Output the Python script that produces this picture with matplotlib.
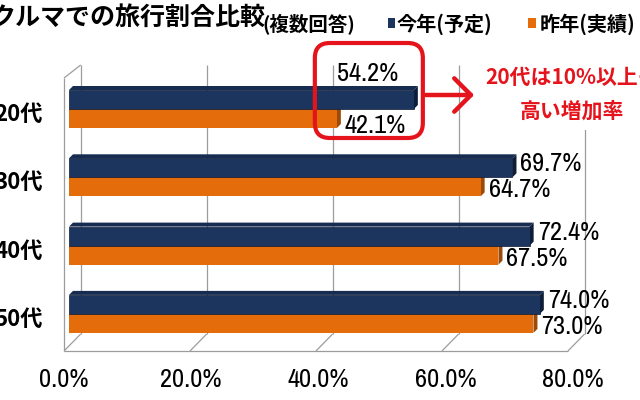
import matplotlib
matplotlib.use('Agg')
import matplotlib.pyplot as plt
from matplotlib.patches import Polygon, FancyBboxPatch, Rectangle, FancyArrowPatch
from matplotlib.transforms import ScaledTranslation, IdentityTransform

# ---- data ----
categories = ['20代', '30代', '40代', '50代']
this_year = [54.2, 69.7, 72.4, 74.0]
last_year = [42.1, 64.7, 67.5, 73.0]
series_names = ['今年(予定)', '昨年(実績)']
xticks = [0, 20, 40, 60, 80]
xtick_labels = ['0.0%', '20.0%', '40.0%', '60.0%', '80.0%']
title = 'クルマでの旅行割合比較'
subtitle = '(複数回答)'
note = '20代は10%以上も\n高い増加率'

# ---- style ----
NAVY = '#1B355F'
NAVY_TOP = '#162C50'
NAVY_SIDE = '#0E1D38'
ORANGE = '#E46C0A'
ORANGE_SIDE = '#9E4A07'
RED = '#E5141C'
GRID = '#9C9C9C'
CJK = 'Noto Sans CJK JP'
NUM = ['Archivo Narrow', 'Liberation Sans Narrow', 'Liberation Sans', CJK]

W, H = 640, 400
fig = plt.figure(figsize=(W / 100, H / 100), dpi=100)
fig.patch.set_facecolor('white')

x0px, x80px = 69, 578
sx = (x80px - x0px) / 80.0      # px per %
y0px, sy = 109, 68.3            # px of first category, px per category
ytop, ybot = -0.65, 3.55
ax = fig.add_axes([x0px / W, 1 - (y0px + ybot * sy) / H,
                   (x80px - x0px) / W, (ybot - ytop) * sy / H])
ax.set_xlim(0, 80)
ax.set_ylim(ybot, ytop)
for s in ax.spines.values():
    s.set_visible(False)
ax.patch.set_visible(False)

def dxu(px):
    return px / sx

def dyu(px):
    return px / sy

def ypx(px):
    return (px - y0px) / sy

# ---- 3D box: walls, floor, gridlines ----
back_top, back_floor = ypx(65), ypx(334)
front_top, front_floor = ypx(78), ypx(351)
def back_x(v):
    return dxu(11.7) + v * 0.99
def front_x(v):
    return dxu(-5) + v * 0.99
lkw = dict(color=GRID, lw=0.9, zorder=1, clip_on=False, solid_capstyle='butt')
for v in xticks:
    ax.plot([back_x(v), back_x(v)], [back_top, back_floor], **lkw)
    ax.plot([back_x(v), front_x(v)], [back_floor, front_floor], **lkw)
ax.plot([front_x(0), front_x(0)], [front_top, front_floor], **lkw)
ax.plot([front_x(0), back_x(0)], [front_top, back_top], **lkw)
ax.plot([front_x(0), front_x(xticks[-1])], [front_floor, front_floor], **lkw)

# ---- bars ----
h = dyu(19)
ddx, ddy = dxu(4), dyu(4)
pos = list(range(len(categories)))

def bar3d(y_top, y_bot, v, side, top=None):
    ax.add_patch(Polygon([(v, y_top), (v + ddx, y_top - ddy), (v + ddx, y_bot - ddy), (v, y_bot)],
                         closed=True, fc=side, ec='none', zorder=4))
    if top is not None:
        ax.add_patch(Polygon([(0, y_top), (v, y_top), (v + ddx, y_top - ddy), (ddx, y_top - ddy)],
                             closed=True, fc=top, ec='none', zorder=4))

for i in pos:
    bar3d(i, i + h, last_year[i], ORANGE_SIDE)
ax.barh([p + h / 2 for p in pos], last_year, height=h, color=ORANGE, zorder=5)
for i in pos:
    bar3d(i - h, i, this_year[i], NAVY_SIDE, NAVY_TOP)
ax.barh([p - h / 2 for p in pos], this_year, height=h, color=NAVY, zorder=6,
        edgecolor='#0d1a33', linewidth=0.5)

# ---- value labels ----
lab = dict(fontfamily=NUM, fontsize=19, color='black', zorder=8,
           textcoords='offset pixels', annotation_clip=False)
for i in pos:
    if i == 0:
        ax.annotate(f'{this_year[i]:.1f}%', (this_year[i], i - h / 2), xytext=(-46, 26),
                    ha='center', va='center', **lab)
        ax.annotate(f'{last_year[i]:.1f}%', (last_year[i], i + h / 2), xytext=(8, -7),
                    ha='left', va='center', **lab)
    else:
        ax.annotate(f'{this_year[i]:.1f}%', (this_year[i], i - h / 2), xytext=(8, 4),
                    ha='left', va='center', **lab)
        ax.annotate(f'{last_year[i]:.1f}%', (last_year[i], i + h / 2), xytext=(8, -3),
                    ha='left', va='center', **lab)

# ---- axes ticks ----
ax.set_xticks(xticks)
ax.set_xticklabels(xtick_labels, fontfamily=NUM, fontsize=19)
ax.tick_params(axis='x', length=0, pad=12)
for t in ax.get_xticklabels():
    t.set_transform(t.get_transform() + ScaledTranslation(-5 / 100, 0, fig.dpi_scale_trans))
ax.set_yticks(pos)
ax.set_yticklabels(categories, fontfamily=CJK, fontsize=16, fontweight='bold')
ax.tick_params(axis='y', length=0, pad=19)
for t in ax.get_yticklabels():
    t.set_transform(t.get_transform() + ScaledTranslation(0, -3 / 100, fig.dpi_scale_trans))

# ---- highlight box and arrow around the first group ----
fig.canvas.draw()
v0 = this_year[0]
(bx0, by0) = ax.transData.transform((v0 - dxu(99), 0))
(bx1, _) = ax.transData.transform((v0 + dxu(9), 0))
by_top_px = by0 + 66     # display coords (y up)
by_bot_px = by0 - 29
box = FancyBboxPatch((bx0, by_bot_px), bx1 - bx0, by_top_px - by_bot_px,
                     boxstyle='round,pad=0,rounding_size=15', fc='none', ec=RED, lw=3,
                     transform=IdentityTransform(), zorder=9, clip_on=False)
fig.add_artist(box)
ay = by0 + 14
fig.add_artist(FancyArrowPatch(
    (bx1, ay), (bx1 + 54, ay), arrowstyle='->,head_length=1.0,head_width=1.0',
    mutation_scale=12, lw=3.2, color=RED, transform=IdentityTransform(), zorder=9))

fig.text(572 / W, 1 - 94 / H, note, ha='center', va='center', multialignment='center',
         fontfamily=CJK, fontsize=15, fontweight='bold', color=RED, linespacing=1.75,
         zorder=9, bbox=dict(fc='white', ec='none', pad=6))

# ---- title & legend ----
fig.text(-10 / W, 1 - 25 / H, title, ha='left', va='baseline', fontfamily=CJK,
         fontsize=18, fontweight='bold')
fig.text(262 / W, 1 - 30 / H, subtitle, ha='left', va='baseline', fontfamily=CJK,
         fontsize=14, fontweight='bold')
fig.add_artist(Rectangle((388 / W, 1 - 28 / H), 7 / W, 10 / H, fc=NAVY, ec='none',
                         transform=fig.transFigure))
fig.text(397 / W, 1 - 31 / H, series_names[0], ha='left', va='baseline', fontfamily=CJK,
         fontsize=14.5, fontweight='bold')
fig.add_artist(Rectangle((528 / W, 1 - 28 / H), 8 / W, 10 / H, fc=ORANGE, ec='none',
                         transform=fig.transFigure))
fig.text(540 / W, 1 - 31 / H, series_names[1], ha='left', va='baseline', fontfamily=CJK,
         fontsize=14.5, fontweight='bold')

fig.savefig('out.png', dpi=100, facecolor='white')
